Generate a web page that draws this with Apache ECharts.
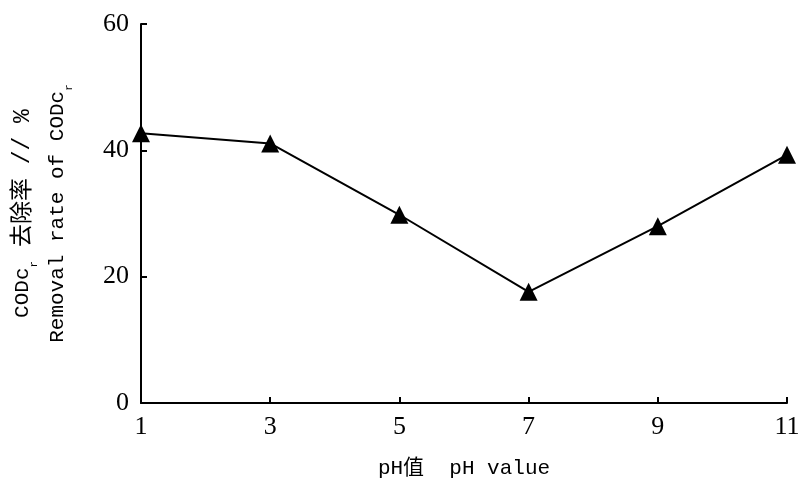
<!DOCTYPE html>
<html>
<head>
<meta charset="utf-8">
<script src="https://cdn.jsdelivr.net/npm/echarts@6/dist/echarts.min.js"></script>
<style>
  html, body { margin: 0; padding: 0; background: #fff; }
  #chart { width: 800px; height: 485px; }
</style>
</head>
<body>
<div id="chart"></div>
<script>
// pH values on the x axis
const phValues = ["1", "3", "5", "7", "9", "11"];
// CODcr removal rate (%)
const removalRate = [42.7, 41.1, 29.8, 17.6, 28.0, 39.3];
const yTicks = { min: 0, max: 60, interval: 20 };

const serif = "'Liberation Serif', 'Noto Sans CJK SC', serif";
const mono = "'Liberation Mono', 'Noto Sans CJK SC', monospace";

const chart = echarts.init(document.getElementById("chart"));
chart.setOption({
  animation: false,
  grid: { left: 141, right: 13, top: 24, bottom: 82, outerBoundsMode: "none" },
  xAxis: {
    type: "category",
    data: phValues,
    boundaryGap: false,
    name: "pH值  pH value",
    nameLocation: "middle",
    nameGap: 55,
    nameTextStyle: { color: "#000", fontFamily: mono, fontSize: 21 },
    axisLine: { lineStyle: { color: "#000", width: 2 } },
    axisTick: { inside: true, length: 6, alignWithLabel: true, lineStyle: { color: "#000", width: 2 } },
    axisLabel: { color: "#000", fontFamily: serif, fontSize: 26, margin: 11 },
    splitLine: { show: false }
  },
  yAxis: {
    type: "value",
    min: yTicks.min,
    max: yTicks.max,
    interval: yTicks.interval,
    name: "{t|CODc}{s|r}{c| 去除率 // %}\n{t|Removal rate of CODc}{s|r}",
    nameLocation: "middle",
    nameRotate: 90,
    nameGap: 66,
    nameTextStyle: {
      color: "#000",
      fontFamily: mono,
      rich: {
        t: { fontFamily: mono, fontSize: 21, lineHeight: 35, color: "#000" },
        c: { fontFamily: mono, fontSize: 23, lineHeight: 35, color: "#000" },
        s: { fontFamily: mono, fontSize: 11, lineHeight: 35, color: "#000", verticalAlign: "bottom", padding: [8, 0, 0, 0] }
      }
    },
    axisLine: { show: true, lineStyle: { color: "#000", width: 2 } },
    axisTick: { show: true, inside: true, length: 6, lineStyle: { color: "#000", width: 2 } },
    axisLabel: { color: "#000", fontFamily: serif, fontSize: 26, margin: 12 },
    splitLine: { show: false }
  },
  series: [{
    type: "line",
    data: removalRate,
    symbol: "triangle",
    symbolSize: 18,
    itemStyle: { color: "#000" },
    lineStyle: { color: "#000", width: 2 }
  }]
});
</script>
</body>
</html>
